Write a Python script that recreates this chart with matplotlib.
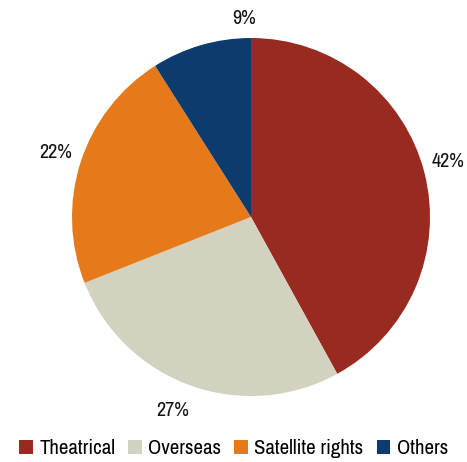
from matplotlib import use
use('Agg')
import matplotlib.pyplot as plt
from matplotlib.patches import Patch

categories = ["Theatrical", "Overseas", "Satellite rights", "Others"]
shares = [42, 27, 22, 9]
colors = ["#982A20", "#D3D1C0", "#E67A1B", "#0C3C6E"]

# where the percentage labels sit (in pie radii), as in the original
label_xy = [(1.10, 0.31), (-0.44, -1.08), (-1.09, 0.36), (-0.04, 1.11)]

plt.rcParams['font.family'] = ['Archivo Narrow', 'DejaVu Sans']

fig = plt.figure(figsize=(4.67, 4.62), dpi=100)
r = 179
cx, cy = 251, 217
ax = fig.add_axes([(cx - r) / 467, (462 - cy - r) / 462, 2 * r / 467, 2 * r / 462])

wedges, texts = ax.pie(shares, colors=colors, startangle=90, counterclock=False,
                       labels=["%d%%" % s for s in shares], labeldistance=1.12,
                       textprops={'fontsize': 14.5, 'color': '#111111'})
ax.set_aspect('equal')
ax.set_xlim(-1, 1)
ax.set_ylim(-1, 1)
for t, xy in zip(texts, label_xy):
    t.set_position(xy)
    t.set_ha('center')
    t.set_va('center')

handles = [Patch(facecolor=c, edgecolor='none') for c in colors]
fig.legend(handles, categories, loc='center', bbox_to_anchor=(0.5, (462 - 449) / 462),
           ncol=4, frameon=False, fontsize=15, handlelength=0.67, handleheight=0.67,
           handletextpad=0.3, columnspacing=0.62)

fig.savefig("out.png")
